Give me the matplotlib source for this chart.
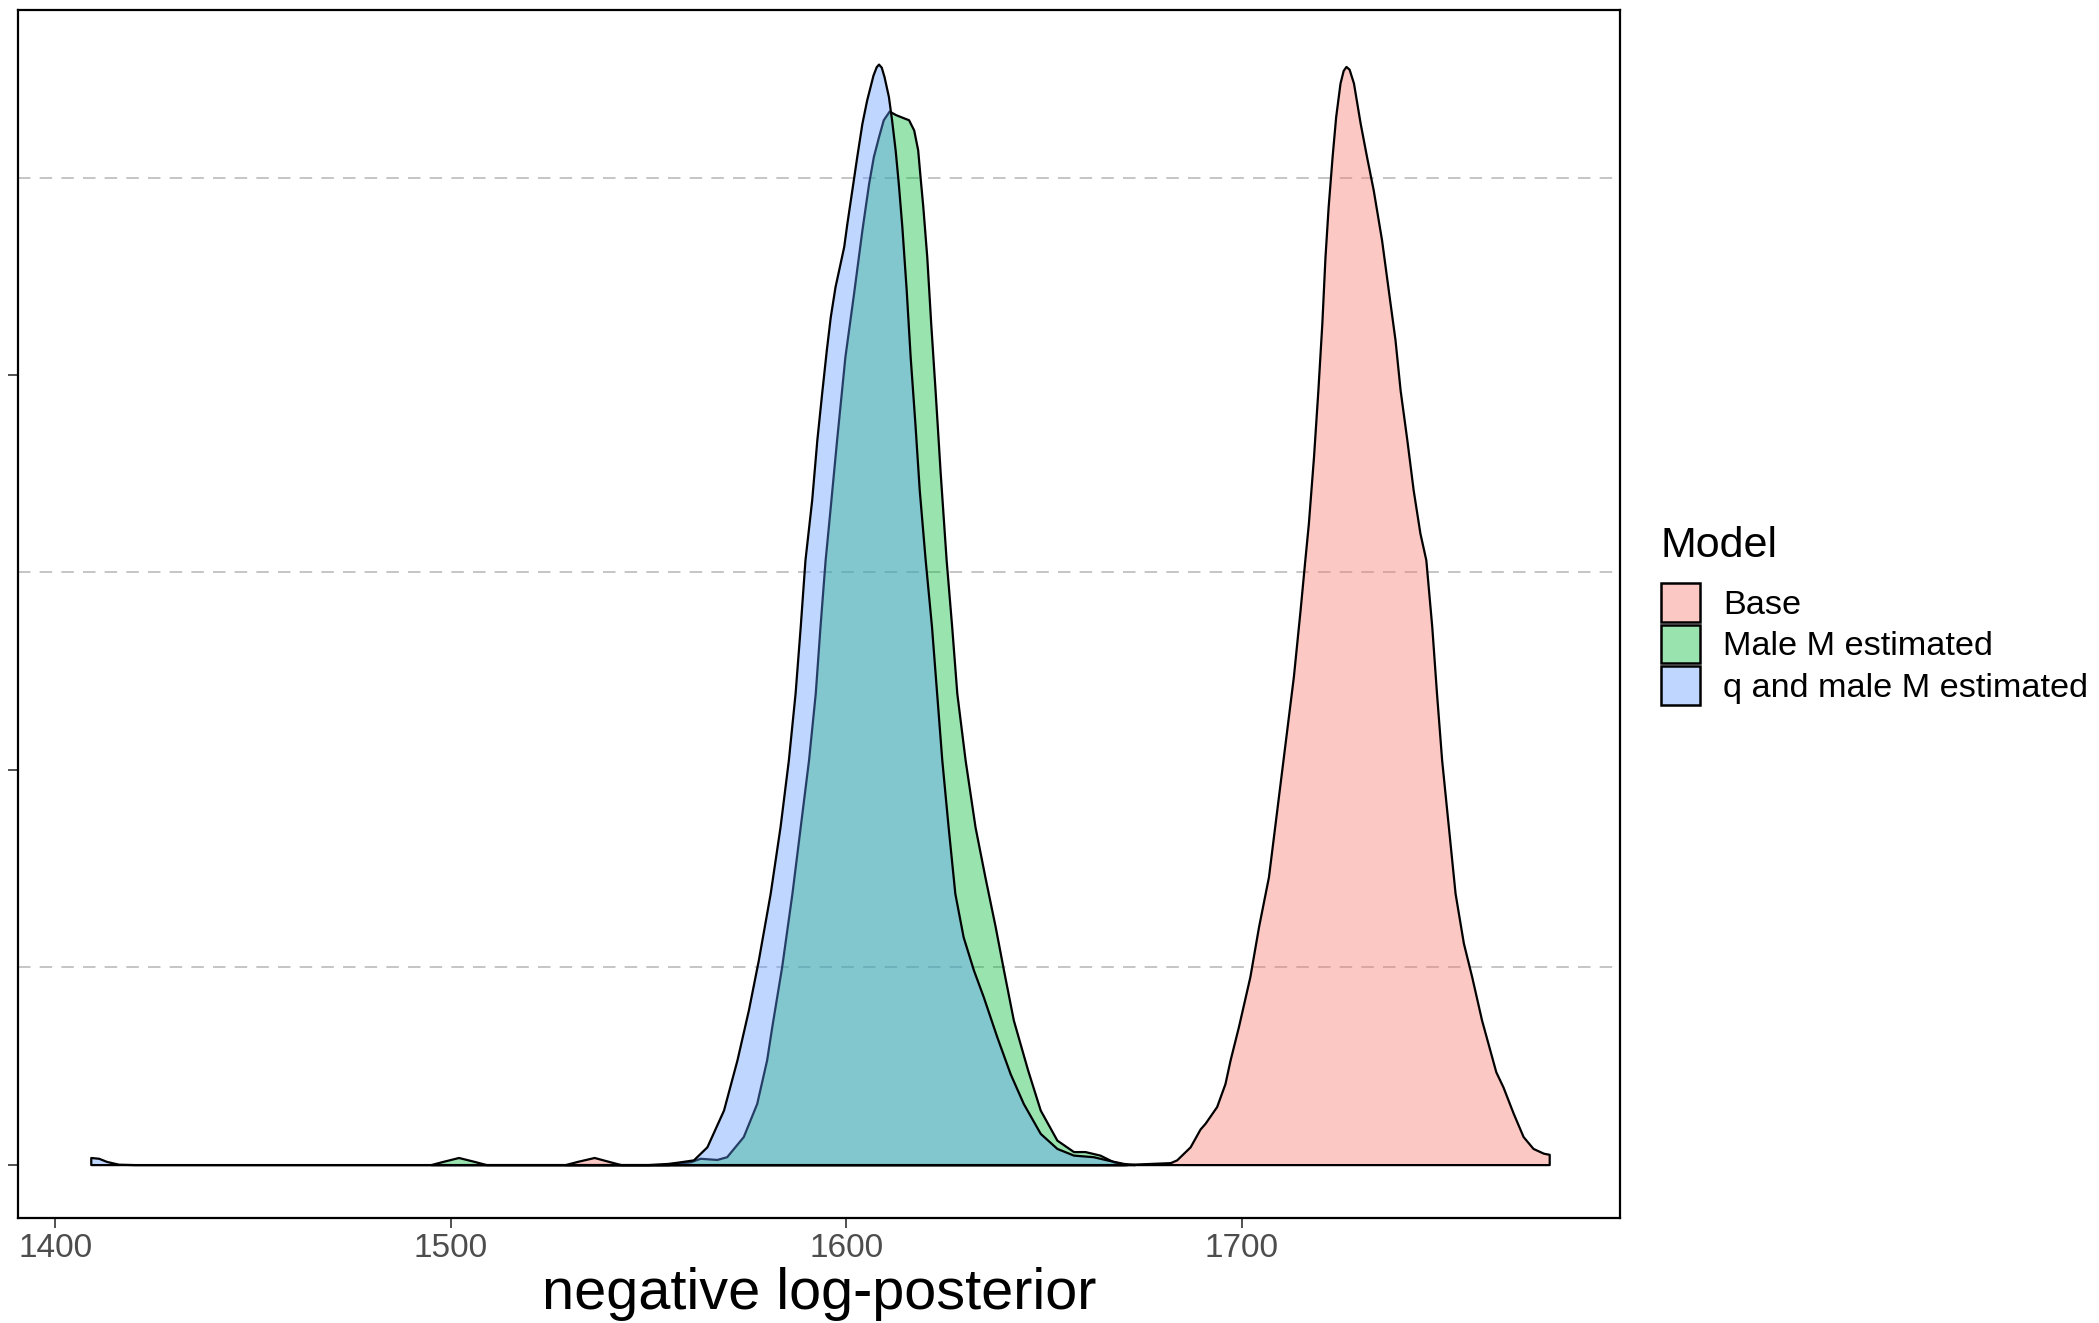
import matplotlib
matplotlib.use("Agg")
import matplotlib.pyplot as plt
from matplotlib.patches import Patch
from matplotlib.ticker import FixedLocator

plt.rcParams['font.family'] = ['Liberation Sans', 'DejaVu Sans']

# density curves (x = negative log-posterior, y = density)
models = ['Base', 'Male M estimated', 'q and male M estimated']
colours = ['#F8766D', '#00BA38', '#619CFF']

base_x = [1529, 1532, 1536.3, 1540, 1543, 1600, 1670, 1682, 1683.6, 1687, 1689.5,
          1690.8, 1693.7, 1695.8, 1697.1, 1699.2, 1702.1, 1704.3, 1706.8, 1708.9,
          1711.0, 1713.1, 1714.8, 1716.0, 1716.9, 1718.2, 1719.3, 1720.3, 1721.1,
          1721.9, 1722.9, 1723.8, 1724.9, 1725.7, 1726.4, 1727.2, 1728.3, 1730.0,
          1731.6, 1733.3, 1735.4, 1737.1, 1738.8, 1740.1, 1741.8, 1743.4, 1745.1,
          1746.6, 1748.1, 1749.3, 1750.6, 1752.3, 1754.0, 1756.1, 1758.2, 1760.7,
          1764.3, 1766.1, 1768.7, 1771.2, 1773.7, 1776.3, 1777.8]
base_y = [0, 0.00008, 0.00018, 0.00008, 0, 0, 0, 0.00005, 0.00012, 0.00045, 0.00090,
          0.00105, 0.00147, 0.00205, 0.00265, 0.00349, 0.00476, 0.00603, 0.00729, 0.00898,
          0.01067, 0.01236, 0.01405, 0.01532, 0.01625, 0.01794, 0.01962, 0.02131, 0.02300,
          0.02427, 0.02554, 0.02655, 0.02740, 0.02772, 0.02782, 0.02775, 0.02740, 0.02638,
          0.02554, 0.02469, 0.02343, 0.02216, 0.02090, 0.01962, 0.01836, 0.01709, 0.01600,
          0.01532, 0.01363, 0.01194, 0.01025, 0.00856, 0.00687, 0.00561, 0.00476, 0.00366,
          0.00235, 0.00197, 0.00130, 0.00071, 0.00041, 0.00029, 0.00026]

male_x = [1495, 1498, 1502, 1506, 1509, 1530, 1555, 1558, 1560.6, 1563.1, 1567.3,
          1569.8, 1574.0, 1577.4, 1579.9, 1581.2, 1583.7, 1586.3, 1588.4, 1590.5,
          1592.2, 1593.4, 1594.7, 1596.0, 1597.6, 1599.7, 1601.9, 1604.0, 1605.7,
          1606.9, 1608.2, 1609.4, 1610.9, 1612.5, 1614.5, 1615.8, 1617.1, 1618.1,
          1618.7, 1619.4, 1620.4, 1621.4, 1622.5, 1623.8, 1625.3, 1626.7, 1628.0,
          1630.1, 1632.6, 1635.1, 1637.7, 1639.8, 1642.3, 1645.9, 1649.1, 1653.3,
          1657.5, 1660.4, 1664.2, 1667.6, 1671]
male_y = [0, 0.00008, 0.00018, 0.00008, 0, 0, 0, 0.00005, 0.00007, 0.00016, 0.00013,
          0.00020, 0.00071, 0.00155, 0.00265, 0.00349, 0.00501, 0.00687, 0.00856, 0.01025,
          0.01194, 0.01363, 0.01532, 0.01667, 0.01836, 0.02047, 0.02208, 0.02368, 0.02486,
          0.02554, 0.02604, 0.02647, 0.02669, 0.02660, 0.02652, 0.02647, 0.02621, 0.02571,
          0.02503, 0.02427, 0.02300, 0.02131, 0.01962, 0.01752, 0.01532, 0.01363, 0.01194,
          0.01025, 0.00856, 0.00729, 0.00603, 0.00493, 0.00366, 0.00240, 0.00138, 0.00062,
          0.00033, 0.00033, 0.00024, 0.00007, 0]

q_x = [1409, 1411, 1413, 1416, 1420, 1500, 1550, 1555, 1558, 1561.4, 1564.8, 1569.0,
       1572.4, 1575.3, 1577.8, 1580.8, 1583.3, 1585.4, 1587.1, 1588.4, 1589.6, 1591.3,
       1592.6, 1593.9, 1595.0, 1596.0, 1597.2, 1599.4, 1600.2, 1601.7, 1602.7, 1604.0,
       1605.2, 1606.8, 1607.6, 1608.2, 1608.9, 1609.6, 1610.7, 1611.5, 1612.4, 1613.2,
       1614.1, 1615.2, 1616.2, 1617.4, 1618.5, 1620.0, 1621.6, 1622.9, 1624.2, 1625.8,
       1627.5, 1629.6, 1632.2, 1634.7, 1638.1, 1641.5, 1644.8, 1649.1, 1653.3, 1657.5,
       1662.5, 1665.9, 1670.1, 1673]
q_y = [0.00018, 0.00016, 0.00008, 0.00001, 0, 0, 0, 0.00003, 0.00007, 0.00012, 0.00045,
       0.00138, 0.00265, 0.00392, 0.00518, 0.00687, 0.00856, 0.01025, 0.01194, 0.01363,
       0.01532, 0.01684, 0.01836, 0.01962, 0.02064, 0.02148, 0.02224, 0.02326, 0.02385,
       0.02486, 0.02554, 0.02638, 0.02697, 0.02760, 0.02781, 0.02788, 0.02780, 0.02756,
       0.02706, 0.02647, 0.02571, 0.02486, 0.02376, 0.02216, 0.02047, 0.01878, 0.01709,
       0.01532, 0.01363, 0.01194, 0.01025, 0.00856, 0.00687, 0.00577, 0.00493, 0.00425,
       0.00324, 0.00230, 0.00155, 0.00079, 0.00041, 0.00024, 0.00020, 0.00012, 0.00003, 0]

curves = [(base_x, base_y), (male_x, male_y), (q_x, q_y)]

x_ticks = [1400, 1500, 1600, 1700]
y_ticks = [0, 0.01, 0.02]
y_minor = [0.005, 0.015, 0.025]

fig = plt.figure(figsize=(20.99, 13.23), dpi=100)
ax = fig.add_axes([18/2099, 1-1218/1323, 1602/2099, 1208/1323])

for (xs, ys), col in zip(curves, colours):
    ax.fill_between(xs, ys, 0, facecolor=matplotlib.colors.to_rgba(col, 0.4),
                    edgecolor='black', linewidth=1.6, zorder=3)

ax.set_xlim(1390.6, 1795.7)
ax.set_ylim(-0.001353, 0.02925)

ax.set_xticks(x_ticks)
ax.set_xticklabels([str(t) for t in x_ticks], fontsize=24, color='#4D4D4D')
ax.set_yticks(y_ticks)
ax.set_yticklabels([])
ax.yaxis.set_minor_locator(FixedLocator(y_minor))
ax.tick_params(axis='both', which='major', length=7, width=1.2, color='#333333')
ax.tick_params(axis='x', pad=4)
ax.tick_params(axis='y', which='minor', length=0)

ax.set_axisbelow(True)
ax.grid(which='minor', axis='y', color='#BBBBBB', linestyle=(0, (7.5, 5.5)), linewidth=1.2)
ax.grid(which='major', visible=False)

for sp in ax.spines.values():
    sp.set_linewidth(1.6)
    sp.set_color('black')

ax.set_xlabel('negative log-posterior', fontsize=41.5, color='black', labelpad=2)

# legend: title as its own text, keys below it
fig.text(1661/2099, 1-557/1323, 'Model', fontsize=31, ha='left', va='baseline')
handles = [Patch(facecolor=matplotlib.colors.to_rgba(c, 0.4), edgecolor='black',
                 linewidth=1.8) for c in colours]
leg = ax.legend(handles, models, loc='upper left',
                bbox_to_anchor=(1661/2099, 1-583/1323), bbox_transform=fig.transFigure,
                frameon=False, fontsize=24.7,
                handlelength=1.13, handleheight=1.365, labelspacing=0.08,
                handletextpad=0.68, borderpad=0, borderaxespad=0)

fig.savefig('out.png', dpi=100)
